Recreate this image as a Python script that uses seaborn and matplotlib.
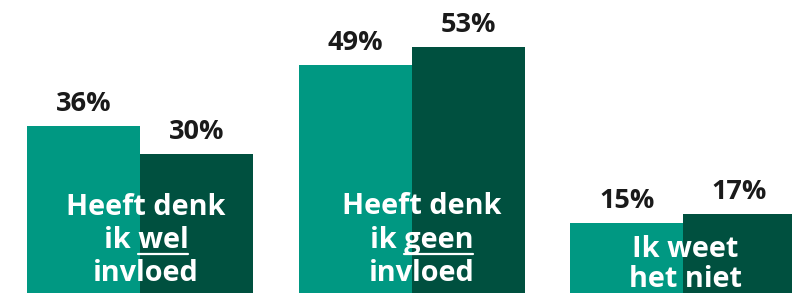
import numpy as np
import pandas as pd
import matplotlib
matplotlib.use("Agg")
import matplotlib.pyplot as plt
from matplotlib.lines import Line2D
import seaborn as sns

# ---- data ----
categories = ["Heeft denk ik wel invloed", "Heeft denk ik geen invloed", "Ik weet het niet"]
series = ["Meting 1", "Meting 2"]
values_1 = [36, 49, 15]
values_2 = [30, 53, 17]
value_labels_1 = ["36%", "49%", "15%"]
value_labels_2 = ["30%", "53%", "17%"]
# label lines inside the bars: (text, underlined word or None)
inner_labels = [
    [("Heeft denk", None), ("ik wel", "wel"), ("invloed", None)],
    [("Heeft denk", None), ("ik geen", "geen"), ("invloed", None)],
    [("Ik weet", None), ("het niet", None)],
]

df = pd.DataFrame({
    "categorie": categories * 2,
    "meting": [series[0]] * 3 + [series[1]] * 3,
    "waarde": values_1 + values_2,
})

TEAL = "#009882"
DARK = "#00503F"
FONT = "Open Sans"

sns.set_theme(style="white")
plt.rcParams["font.family"] = [FONT, "DejaVu Sans"]

W, H = 792, 293
fig = plt.figure(figsize=(W / 100, H / 100), dpi=100)
ax = fig.add_axes([0, 0, 1, 1])

sns.barplot(data=df, x="categorie", y="waarde", hue="meting", order=categories,
            hue_order=series, palette=[TEAL, DARK], width=0.832, gap=0,
            saturation=1, legend=False, edgecolor="none", linewidth=0, ax=ax)

ax.set_xlim(-0.516, 2.401)
ax.set_ylim(0, 63.1)
ax.axis("off")

for cont, labs in zip(ax.containers, [value_labels_1, value_labels_2]):
    ax.bar_label(cont, labels=labs, padding=6.5, fontsize=19.5, fontweight="bold",
                 color="#1a1a1a", family=FONT)

# inner labels (baselines in pixels from top)
x_offsets_px = [6, 10, 2]
baselines_px = [[215, 248, 281], [214, 248, 281], [257, 287]]
FS_IN = 20.8
texts = []
for i, lines in enumerate(inner_labels):
    xd = i + x_offsets_px[i] / 271.5
    for (line, word), yb in zip(lines, baselines_px[i]):
        t = ax.text(xd, 1 - yb / H, line, transform=ax.get_xaxis_transform(),
                    ha="center", va="baseline", color="white", fontsize=FS_IN,
                    fontweight="bold", family=FONT)
        texts.append((t, word, yb))

fig.canvas.draw()
r = fig.canvas.get_renderer()
for t, word, yb in texts:
    if word is None:
        continue
    bb = t.get_window_extent(r)
    tmp = fig.text(0, 0, word, fontsize=FS_IN, fontweight="bold", family=FONT)
    wb = tmp.get_window_extent(r)
    tmp.remove()
    x1 = bb.x1
    x0 = bb.x1 - wb.width
    y = H - (yb + 6)
    fig.add_artist(Line2D([x0 / W, x1 / W], [y / H, y / H], color="white",
                          linewidth=1.6, transform=fig.transFigure))

fig.savefig("out.png", dpi=100)
